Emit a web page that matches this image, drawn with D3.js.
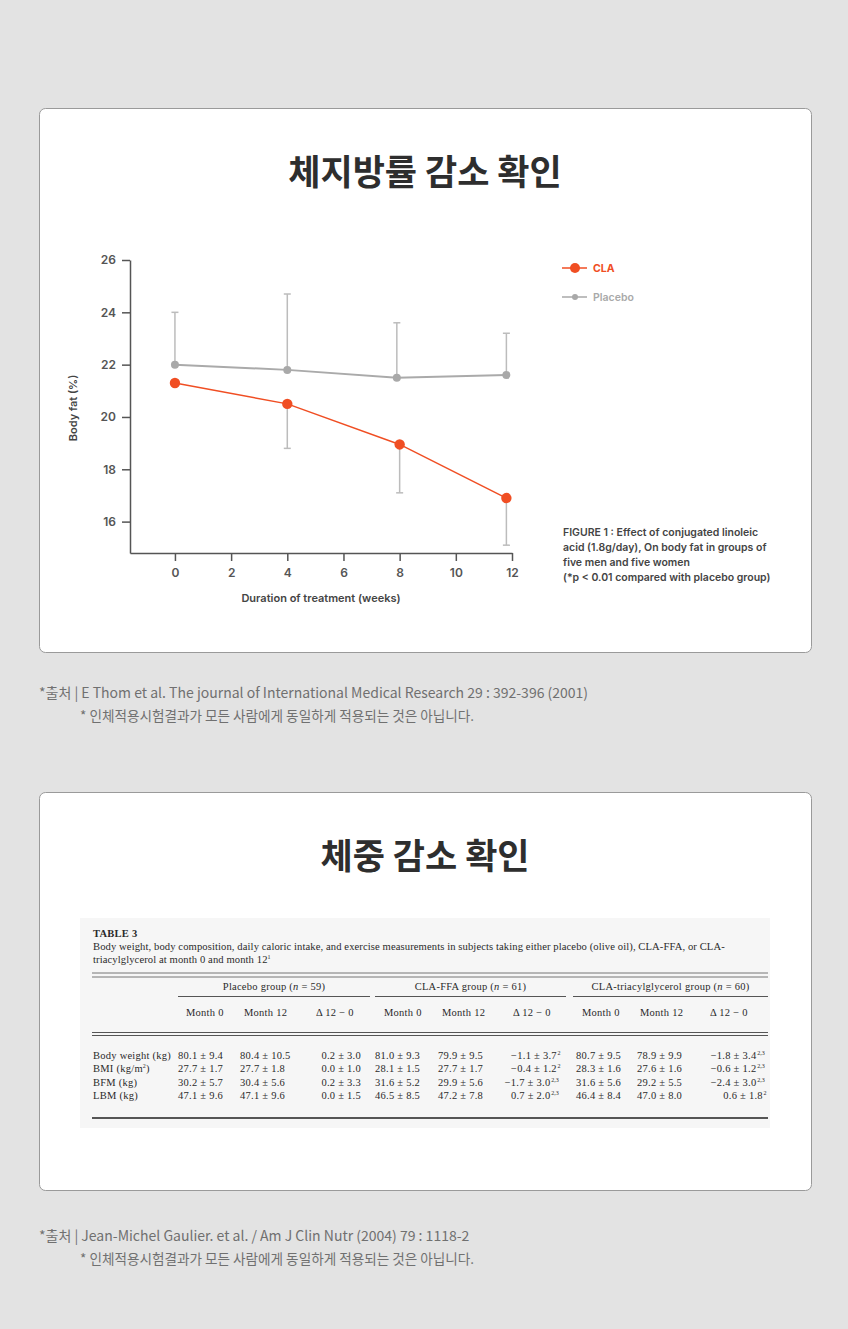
<!DOCTYPE html>
<html>
<head>
<meta charset="utf-8">
<script src="https://cdn.jsdelivr.net/npm/d3@7"></script>
<style>
  body { margin: 0; background: #e3e3e3; }
  svg { display: block; }
</style>
</head>
<body>
<script>
// ---- data ----
var claWeeks = [0, 4, 8, 11.8];
var claFat = [21.3, 20.5, 18.95, 16.9];
var claErrLow = [null, 18.8, 17.1, 15.1];

var placeboWeeks = [0, 4, 7.9, 11.8];
var placeboFat = [22.0, 21.8, 21.5, 21.6];
var placeboErrHigh = [24.0, 24.7, 23.6, 23.2];

var xTicks = [0, 2, 4, 6, 8, 10, 12];
var yTicks = [16, 18, 20, 22, 24, 26];

var captionLines = [
  "FIGURE 1 : Effect of conjugated linoleic",
  "acid (1.8g/day), On body fat in groups of",
  "five men and five women",
  "(*p < 0.01 compared with placebo group)"
];

var tableGroups = ["Placebo group (n = 59)", "CLA-FFA group (n = 61)", "CLA-triacylglycerol group (n = 60)"];
var tableSubHeads = ["Month 0", "Month 12", "\u0394 12 \u2212 0"];
var rowLabels = ["Body weight (kg)", "BMI (kg/m\u00b2)", "BFM (kg)", "LBM (kg)"];
var rowValues = [
  ["80.1 \u00b1 9.4", "80.4 \u00b1 10.5", "0.2 \u00b1 3.0", "81.0 \u00b1 9.3", "79.9 \u00b1 9.5", "\u22121.1 \u00b1 3.7", "80.7 \u00b1 9.5", "78.9 \u00b1 9.9", "\u22121.8 \u00b1 3.4"],
  ["27.7 \u00b1 1.7", "27.7 \u00b1 1.8", "0.0 \u00b1 1.0", "28.1 \u00b1 1.5", "27.7 \u00b1 1.7", "\u22120.4 \u00b1 1.2", "28.3 \u00b1 1.6", "27.6 \u00b1 1.6", "\u22120.6 \u00b1 1.2"],
  ["30.2 \u00b1 5.7", "30.4 \u00b1 5.6", "0.2 \u00b1 3.3", "31.6 \u00b1 5.2", "29.9 \u00b1 5.6", "\u22121.7 \u00b1 3.0", "31.6 \u00b1 5.6", "29.2 \u00b1 5.5", "\u22122.4 \u00b1 3.0"],
  ["47.1 \u00b1 9.6", "47.1 \u00b1 9.6", "0.0 \u00b1 1.5", "46.5 \u00b1 8.5", "47.2 \u00b1 7.8", "0.7 \u00b1 2.0", "46.4 \u00b1 8.4", "47.0 \u00b1 8.0", "0.6 \u00b1 1.8"]
];
var rowSups = [
  ["", "", "", "", "", "2", "", "", "2,3"],
  ["", "", "", "", "", "2", "", "", "2,3"],
  ["", "", "", "", "", "2,3", "", "", "2,3"],
  ["", "", "", "", "", "2,3", "", "", "2"]
];

var kr = "'Noto Sans CJK KR', 'Noto Sans', sans-serif";
var sans = "Inter, 'Noto Sans', Roboto, sans-serif";
var serif = "'Liberation Serif', 'DejaVu Serif', serif";

var svg = d3.select("body").append("svg")
  .attr("width", 848)
  .attr("height", 1329);

// ---- panels ----
svg.append("rect").attr("x", 39.5).attr("y", 108.5).attr("width", 772).attr("height", 544)
  .attr("rx", 6).attr("fill", "#fff").attr("stroke", "#9a9a9a");
svg.append("rect").attr("x", 39.5).attr("y", 792.5).attr("width", 772).attr("height", 398)
  .attr("rx", 6).attr("fill", "#fff").attr("stroke", "#9a9a9a");

svg.append("text").attr("x", 425).attr("y", 185).attr("text-anchor", "middle")
  .attr("font-family", kr).attr("font-weight", 700).attr("font-size", 35)
  .attr("fill", "#2e2e2e").text("체지방률 감소 확인");
svg.append("text").attr("x", 425).attr("y", 869).attr("text-anchor", "middle")
  .attr("font-family", kr).attr("font-weight", 700).attr("font-size", 35)
  .attr("fill", "#2e2e2e").text("체중 감소 확인");

// ---- line chart ----
var x = d3.scaleLinear().domain([-1.6, 12]).range([130, 512]);
var y = d3.scaleLinear().domain([14.8, 26]).range([553, 260]);

var gy = svg.append("g").attr("transform", "translate(130,0)")
  .call(d3.axisLeft(y).tickValues(yTicks).tickSize(8).tickSizeOuter(0).tickPadding(6));
var gx = svg.append("g").attr("transform", "translate(0,553)")
  .call(d3.axisBottom(x).tickValues(xTicks).tickSize(8).tickSizeOuter(0).tickPadding(7));

[gx, gy].forEach(function (g) {
  g.selectAll("path, line").attr("stroke", "#555").attr("stroke-width", 1.5);
  g.selectAll("text").attr("font-family", sans).attr("font-size", 12)
    .attr("font-weight", 600).attr("fill", "#555");
});

svg.append("text").attr("x", 321).attr("y", 602).attr("text-anchor", "middle")
  .attr("font-family", sans).attr("font-size", 11).attr("font-weight", 600)
  .attr("fill", "#444").text("Duration of treatment (weeks)");
svg.append("text").attr("transform", "translate(77,408) rotate(-90)").attr("text-anchor", "middle")
  .attr("font-family", sans).attr("font-size", 11).attr("font-weight", 600)
  .attr("fill", "#444").text("Body fat (%)");

var placebo = placeboWeeks.map(function (w, i) { return { w: w, v: placeboFat[i], e: placeboErrHigh[i] }; });
var cla = claWeeks.map(function (w, i) { return { w: w, v: claFat[i], e: claErrLow[i] }; });

var errColor = "#bcbcbc";
function errorBars(data) {
  var g = svg.append("g");
  data.filter(function (d) { return d.e != null; }).forEach(function (d) {
    g.append("line").attr("x1", x(d.w)).attr("x2", x(d.w)).attr("y1", y(d.v)).attr("y2", y(d.e))
      .attr("stroke", errColor).attr("stroke-width", 1.5);
    g.append("line").attr("x1", x(d.w) - 3.5).attr("x2", x(d.w) + 3.5).attr("y1", y(d.e)).attr("y2", y(d.e))
      .attr("stroke", errColor).attr("stroke-width", 1.5);
  });
}
errorBars(placebo);
errorBars(cla);

var line = d3.line().x(function (d) { return x(d.w); }).y(function (d) { return y(d.v); });

svg.append("path").datum(placebo).attr("d", line).attr("fill", "none")
  .attr("stroke", "#aaaaaa").attr("stroke-width", 2);
svg.append("path").datum(cla).attr("d", line).attr("fill", "none")
  .attr("stroke", "#f04e23").attr("stroke-width", 1.5);

svg.append("g").selectAll("circle").data(placebo).enter().append("circle")
  .attr("cx", function (d) { return x(d.w); }).attr("cy", function (d) { return y(d.v); })
  .attr("r", 4).attr("fill", "#a9a9a9");
svg.append("g").selectAll("circle").data(cla).enter().append("circle")
  .attr("cx", function (d) { return x(d.w); }).attr("cy", function (d) { return y(d.v); })
  .attr("r", 5.2).attr("fill", "#f04e23");

// legend
var legend = [
  { name: "CLA", color: "#f04e23", r: 5, ty: 268, bold: 700, lw: 1.5 },
  { name: "Placebo", color: "#a9a9a9", r: 3, ty: 297, bold: 600, lw: 1.5 }
];
legend.forEach(function (l) {
  svg.append("line").attr("x1", 562).attr("x2", 587).attr("y1", l.ty).attr("y2", l.ty)
    .attr("stroke", l.color).attr("stroke-width", l.lw);
  svg.append("circle").attr("cx", 575).attr("cy", l.ty).attr("r", l.r).attr("fill", l.color);
  svg.append("text").attr("x", 593).attr("y", l.ty + 4).attr("font-family", sans)
    .attr("font-size", 10.5).attr("font-weight", l.bold).attr("fill", l.color).text(l.name);
});

// caption
svg.append("g").selectAll("text").data(captionLines).enter().append("text")
  .attr("x", 563).attr("y", function (d, i) { return 536 + i * 15; })
  .attr("font-family", sans).attr("font-size", 10.5).attr("font-weight", 600)
  .attr("fill", "#444").text(function (d) { return d; });

// sources
function source(yy, txt) {
  svg.append("text").attr("x", 39).attr("y", yy).attr("font-family", kr)
    .attr("font-size", 14).attr("fill", "#707070").text(txt);
  svg.append("text").attr("x", 80).attr("y", yy + 23).attr("font-family", kr)
    .attr("font-size", 13.6).attr("fill", "#707070")
    .text("* 인체적용시험결과가 모든 사람에게 동일하게 적용되는 것은 아닙니다.");
}
source(698, "*출처 | E Thom et al. The journal of International Medical Research 29 : 392-396 (2001)");
source(1241, "*출처 | Jean-Michel Gaulier. et al. / Am J Clin Nutr (2004) 79 : 1118-2");

// ---- table 3 ----
var t = svg.append("g");
t.append("rect").attr("x", 80).attr("y", 918).attr("width", 690).attr("height", 210).attr("fill", "#f6f6f6");
var ink = "#2a2a2a";
var fs = 10.5, ls = 0.25;
function ttext(xx, yy, txt, anchor) {
  return t.append("text").attr("x", xx).attr("y", yy).attr("text-anchor", anchor || "start")
    .attr("font-family", serif).attr("font-size", fs).attr("letter-spacing", ls)
    .attr("fill", ink).text(txt);
}
ttext(93, 937, "TABLE 3").attr("font-weight", 700);
ttext(93, 949.5, "Body weight, body composition, daily caloric intake, and exercise measurements in subjects taking either placebo (olive oil), CLA-FFA, or CLA-")
  .attr("letter-spacing", 0.1).attr("font-size", 10.6);
var cap2 = ttext(93, 962.5, "triacylglycerol at month 0 and month 12").attr("letter-spacing", 0.1).attr("font-size", 10.6);
cap2.append("tspan").attr("font-size", 6).attr("dy", -4).text("1");

function hline(x1, x2, yy, w) {
  t.append("line").attr("x1", x1).attr("x2", x2).attr("y1", yy).attr("y2", yy)
    .attr("stroke", "#555").attr("stroke-width", w);
}
hline(92, 768, 973, 0.8);
hline(92, 768, 977, 0.8);

var groupSpans = [[178, 370], [375, 566], [573, 768]];
tableGroups.forEach(function (g, i) {
  var cx = (groupSpans[i][0] + groupSpans[i][1]) / 2;
  var parts = g.split("n =");
  var tx = ttext(cx, 990, parts[0], "middle");
  tx.append("tspan").attr("font-style", "italic").text("n");
  tx.append("tspan").text(" =" + parts[1]);
  hline(groupSpans[i][0], groupSpans[i][1], 996.5, 1);
});

// column anchors: [x, anchor]
var cols = [[178, "start"], [240, "start"], [361, "end"],
            [375, "start"], [438, "start"], [560, "end"],
            [576, "start"], [637, "start"], [766, "end"]];
var subX = [186, 244, 316, 384, 442, 513, 582, 640, 710];
cols.forEach(function (c, i) {
  ttext(subX[i], 1016, tableSubHeads[i % 3]);
});
hline(92, 768, 1032.5, 1);
hline(92, 768, 1035.5, 1);

rowLabels.forEach(function (lab, r) {
  var yy = 1059 + r * 13.3;
  var lt = ttext(93, yy, "");
  if (lab.indexOf("\u00b2") >= 0) {
    lt.text("BMI (kg/m");
    lt.append("tspan").attr("font-size", 6).attr("dy", -4).text("2");
    lt.append("tspan").attr("dy", 4).text(")");
  } else {
    lt.text(lab);
  }
  rowValues[r].forEach(function (v, c) {
    var sup = rowSups[r][c];
    var sw = sup ? sup.length * 3.2 : 0;
    ttext(cols[c][0] - (cols[c][1] === "end" ? sw : 0), yy, v, cols[c][1]);
    if (sup) {
      t.append("text").attr("x", cols[c][0] - sw + 0.8).attr("y", yy - 4)
        .attr("font-family", serif).attr("font-size", 6).attr("fill", ink).text(sup);
    }
  });
});
hline(92, 768, 1118, 2);
</script>
</body>
</html>
